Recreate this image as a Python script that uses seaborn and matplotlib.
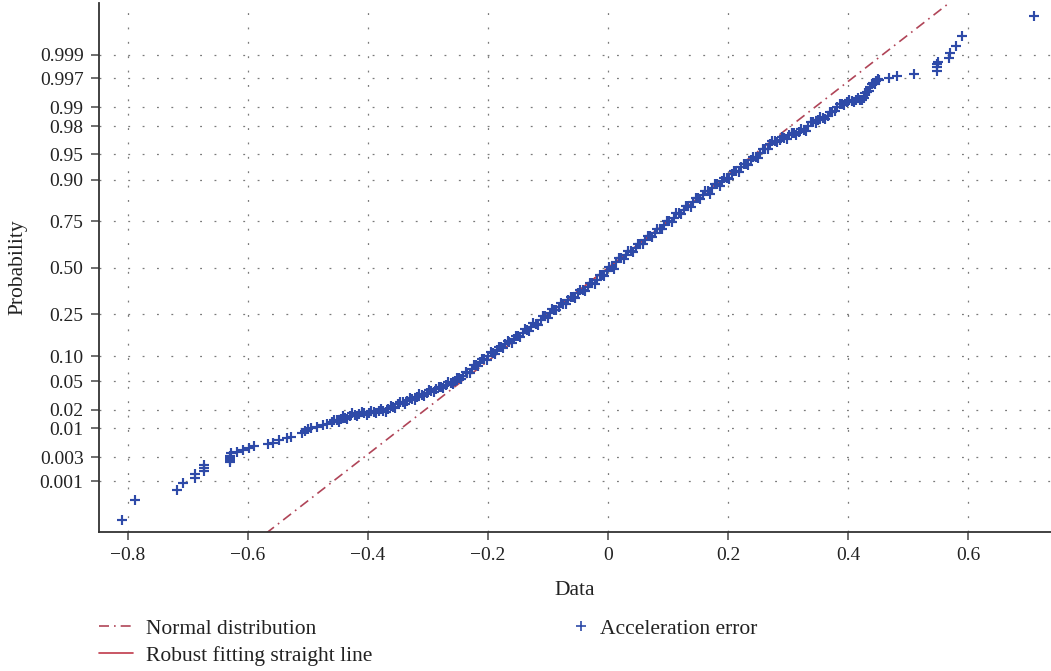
import numpy as np
import pandas as pd
import matplotlib
matplotlib.use("Agg")
import matplotlib.pyplot as plt
import seaborn as sns
from statistics import NormalDist
from matplotlib.lines import Line2D

# ---- data (sorted acceleration error vs normal quantile) ----
data_values = [
    -0.810, -0.788, -0.718, -0.708, -0.688, -0.688, -0.672, -0.672, -0.672,
    -0.630, -0.630, -0.630, -0.630, -0.628, -0.618, -0.608, -0.598, -0.590,
    -0.567, -0.558, -0.548, -0.535, -0.528, -0.510, -0.505, -0.500, -0.494,
    -0.485, -0.475, -0.468, -0.460, -0.452, -0.445, -0.438, -0.430, -0.422,
    -0.414, -0.406, -0.398, -0.390, -0.382, -0.374, -0.366, -0.358, -0.350,
    -0.342, -0.334, -0.326, -0.318, -0.310, -0.302, -0.294, -0.286, -0.278,
    -0.270, -0.262, -0.255, -0.248, -0.241, -0.234, -0.227, -0.220, -0.213,
    -0.206, -0.199, -0.192, -0.185, -0.178, -0.171, -0.164, -0.157, -0.150,
    -0.142, -0.135, -0.128, -0.120, -0.112, -0.104, -0.097, -0.090, -0.082,
    -0.074, -0.066, -0.058, -0.050, -0.042, -0.034, -0.026, -0.018, -0.010,
    -0.002, 0.006, 0.014, 0.022, 0.030, 0.038, 0.046, 0.054, 0.062, 0.070,
    0.078, 0.086, 0.094, 0.102, 0.110, 0.118, 0.126, 0.134, 0.142, 0.150,
    0.158, 0.166, 0.174, 0.182, 0.190, 0.198, 0.206, 0.214, 0.222, 0.230,
    0.238, 0.246, 0.254, 0.262, 0.270, 0.278, 0.286, 0.294, 0.302, 0.310,
    0.318, 0.326, 0.334, 0.342, 0.350, 0.358, 0.366, 0.374, 0.382, 0.390,
    0.398, 0.406, 0.414, 0.420, 0.426, 0.432, 0.437, 0.442, 0.447, 0.452,
    0.468, 0.482, 0.510, 0.548, 0.548, 0.548, 0.550, 0.568, 0.570, 0.580,
    0.590, 0.710,
]
normal_quantiles = [
    -3.65, -3.36, -3.22, -3.12, -3.04, -2.99, -2.94, -2.90, -2.86,
    -2.81, -2.78, -2.75, -2.72, -2.69, -2.67, -2.64, -2.61, -2.58,
    -2.56, -2.54, -2.50, -2.47, -2.45, -2.40, -2.37, -2.34, -2.32,
    -2.30, -2.28, -2.26, -2.24, -2.21, -2.19, -2.17, -2.15, -2.13,
    -2.12, -2.11, -2.10, -2.09, -2.08, -2.07, -2.04, -2.01, -1.98,
    -1.95, -1.93, -1.90, -1.87, -1.84, -1.81, -1.78, -1.76, -1.73,
    -1.70, -1.67, -1.64, -1.60, -1.56, -1.52, -1.47, -1.41, -1.37,
    -1.32, -1.27, -1.23, -1.19, -1.15, -1.11, -1.07, -1.03, -0.99,
    -0.94, -0.90, -0.86, -0.81, -0.75, -0.70, -0.65, -0.61, -0.56,
    -0.52, -0.47, -0.42, -0.37, -0.32, -0.27, -0.22, -0.17, -0.11,
    -0.05, 0.01, 0.08, 0.14, 0.19, 0.24, 0.29, 0.35, 0.40, 0.46,
    0.51, 0.57, 0.62, 0.68, 0.73, 0.79, 0.84, 0.90, 0.95, 1.01,
    1.06, 1.11, 1.16, 1.21, 1.26, 1.31, 1.36, 1.41, 1.46, 1.51,
    1.56, 1.61, 1.67, 1.73, 1.79, 1.84, 1.86, 1.89, 1.92, 1.95,
    1.97, 2.00, 2.05, 2.11, 2.15, 2.18, 2.20, 2.26, 2.33, 2.37,
    2.40, 2.42, 2.43, 2.44, 2.47, 2.55, 2.62, 2.68, 2.71, 2.73,
    2.75, 2.78, 2.81, 2.86, 2.91, 2.95, 2.99, 3.04, 3.12, 3.22,
    3.36, 3.65,
]

# additional points read along the dense central band (its upper/lower edges)
band_data_values = [
    -0.456, -0.448, -0.441, -0.434, -0.426, -0.418, -0.410, -0.402, -0.394,
    -0.386, -0.378, -0.370, -0.362, -0.354, -0.346, -0.338, -0.330, -0.322,
    -0.314, -0.306, -0.298, -0.290, -0.282, -0.274, -0.266, -0.258, -0.251,
    -0.244, -0.237, -0.230, -0.223, -0.216, -0.209, -0.202, -0.195, -0.188,
    -0.181, -0.174, -0.167, -0.160, -0.153, -0.146, -0.138, -0.131, -0.124,
    -0.116, -0.108, -0.100, -0.093, -0.086, -0.078, -0.070, -0.062, -0.054,
    -0.046, -0.038, -0.030, -0.022, -0.014, -0.006, 0.002, 0.010, 0.018,
    0.026, 0.034, 0.042, 0.050, 0.058, 0.066, 0.074, 0.082, 0.090, 0.098,
    0.106, 0.114, 0.122, 0.130, 0.138, 0.146, 0.154, 0.162, 0.170, 0.178,
    0.186, 0.194, 0.202, 0.210, 0.218, 0.226, 0.234, 0.242, 0.250, 0.258,
    0.266, 0.274, 0.282, 0.290, 0.298, 0.306, 0.314, 0.322, 0.330, 0.338,
    0.346, 0.354, 0.362, 0.370, 0.378, 0.386, 0.394, 0.402, 0.410, 0.417,
    0.423, 0.429, 0.435, 0.440, 0.445, 0.450,
]
band_normal_quantiles = [
    -2.20, -2.23, -2.15, -2.19, -2.11, -2.15, -2.09, -2.13, -2.07,
    -2.11, -2.04, -2.09, -2.00, -2.03, -1.94, -1.97, -1.89, -1.92,
    -1.83, -1.86, -1.77, -1.80, -1.72, -1.74, -1.66, -1.69, -1.59,
    -1.61, -1.51, -1.53, -1.41, -1.42, -1.32, -1.33, -1.22, -1.25,
    -1.14, -1.16, -1.06, -1.09, -0.98, -1.00, -0.89, -0.92, -0.80,
    -0.83, -0.70, -0.72, -0.60, -0.61, -0.51, -0.53, -0.42, -0.43,
    -0.32, -0.33, -0.22, -0.23, -0.11, -0.12, 0.01, -0.01, 0.14,
    0.13, 0.24, 0.23, 0.35, 0.34, 0.46, 0.45, 0.57, 0.56, 0.68,
    0.67, 0.79, 0.78, 0.90, 0.89, 1.01, 1.00, 1.11, 1.07, 1.21,
    1.19, 1.31, 1.29, 1.41, 1.39, 1.51, 1.49, 1.61, 1.60, 1.72,
    1.73, 1.84, 1.83, 1.90, 1.87, 1.96, 1.93, 2.01, 1.99, 2.11,
    2.10, 2.19, 2.16, 2.26, 2.27, 2.38, 2.36, 2.44, 2.40, 2.46,
    2.44, 2.53, 2.56, 2.67, 2.67, 2.74,
]

prob_ticks = [0.001, 0.003, 0.01, 0.02, 0.05, 0.10, 0.25, 0.50,
              0.75, 0.90, 0.95, 0.98, 0.99, 0.997, 0.999]
prob_tick_labels = ["0.001", "0.003", "0.01", "0.02", "0.05", "0.10", "0.25",
                    "0.50", "0.75", "0.90", "0.95", "0.98", "0.99", "0.997", "0.999"]
x_ticks = [-0.8, -0.6, -0.4, -0.2, 0.0, 0.2, 0.4, 0.6]
x_tick_labels = ["\u22120.8", "\u22120.6", "\u22120.4", "\u22120.2", "0", "0.2", "0.4", "0.6"]

normal_mu = 0.0
normal_sigma = 0.148

series_labels = ["Normal distribution", "Robust fitting straight line", "Acceleration error"]

# ---- styling ----
sns.set_theme(style="ticks")
plt.rcParams["font.family"] = ["Liberation Serif", "DejaVu Serif"]
plt.rcParams["axes.unicode_minus"] = True

blue = "#2e4aa8"
red_dash = "#b04558"
red_solid = "#c03a4a"
text_c = "#222222"

fig = plt.figure(figsize=(10.51, 6.71), dpi=100)
ax = fig.add_axes([0.094, 0.207, 0.906, 0.7885])

nd = NormalDist()
zlim = 3.84

# normal distribution reference line (dash-dot)
line_df = pd.DataFrame({"z": [-zlim - 0.2, zlim + 0.2]})
line_df["x"] = normal_mu + normal_sigma * line_df["z"]
sns.lineplot(data=line_df, x="x", y="z", ax=ax, color=red_dash, lw=1.2,
             linestyle=(0, (6, 3, 1, 3)), sort=False, estimator=None, zorder=2)

# robust fit segment between quartiles (hidden under data)
q_df = pd.DataFrame({"z": [nd.inv_cdf(0.25), nd.inv_cdf(0.75)]})
q_df["x"] = normal_mu + normal_sigma * q_df["z"]
sns.lineplot(data=q_df, x="x", y="z", ax=ax, color=red_solid, lw=1.2,
             sort=False, estimator=None, zorder=2)

pts = pd.DataFrame({"x": data_values + band_data_values,
                    "z": normal_quantiles + band_normal_quantiles})
sns.scatterplot(data=pts, x="x", y="z", ax=ax, marker="+", s=42, color=blue,
                linewidth=1.55, zorder=3)

ax.set_xlim(-0.848, 0.738)
ax.set_ylim(-3.83, zlim)

ax.set_xticks(x_ticks)
ax.set_xticklabels(x_tick_labels)
ax.set_yticks([nd.inv_cdf(p) for p in prob_ticks])
ax.set_yticklabels(prob_tick_labels)

ax.grid(True, color="#7a7a7a", linestyle=(0, (1.5, 10)), linewidth=0.9)
for s in ["top", "right"]:
    ax.spines[s].set_visible(False)
for s in ["left", "bottom"]:
    ax.spines[s].set_color("#333333")
    ax.spines[s].set_linewidth(1.3)
ax.tick_params(axis="both", direction="out", length=6, width=1.2, color="#555555",
               labelsize=14, labelcolor=text_c, pad=5)

ax.set_xlabel("Data", fontsize=15.5, color=text_c, labelpad=12)
ax.set_ylabel("Probability", fontsize=15.5, color=text_c, labelpad=9)

# legends below the plot
h1 = Line2D([], [], color=red_dash, lw=1.2, linestyle=(0, (6, 3, 1, 3)))
h2 = Line2D([], [], color=red_solid, lw=1.2)
h3 = Line2D([], [], color=blue, lw=0, marker="+", markersize=7, markeredgewidth=1.2)
fig.legend([h1, h2], series_labels[:2], loc="upper left",
           bbox_to_anchor=(0.094, 0.078), frameon=False, labelcolor=text_c,
           fontsize=15.5, handlelength=1.6, handletextpad=0.6, labelspacing=0.32,
           borderaxespad=0, borderpad=0)
fig.legend([h3], series_labels[2:], loc="upper left",
           bbox_to_anchor=(0.543, 0.078), frameon=False, labelcolor=text_c,
           fontsize=15.5, handlelength=1.0, handletextpad=0.35,
           borderaxespad=0, borderpad=0)

fig.savefig("out.png", dpi=100)
